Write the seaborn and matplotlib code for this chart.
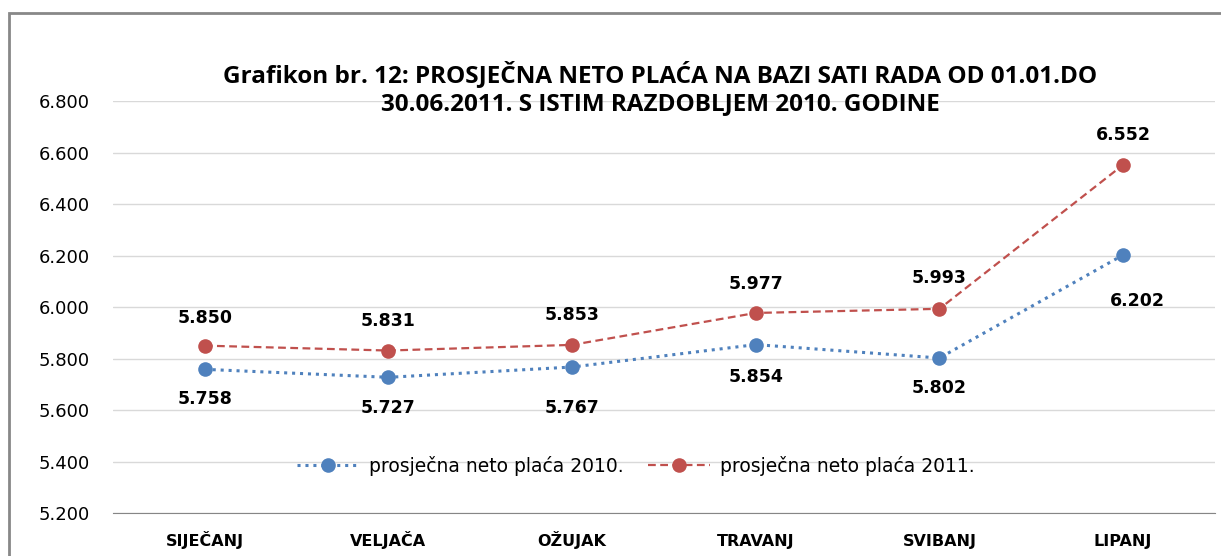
import matplotlib
matplotlib.use("Agg")
import matplotlib.pyplot as plt
import matplotlib.patches as mpatches
import matplotlib.ticker as mticker
import pandas as pd
import seaborn as sns

months = ["SIJEČANJ", "VELJAČA", "OŽUJAK", "TRAVANJ", "SVIBANJ", "LIPANJ"]
placa_2010 = [5758, 5727, 5767, 5854, 5802, 6202]
placa_2011 = [5850, 5831, 5853, 5977, 5993, 6552]
label_2010 = "prosječna neto plaća 2010."
label_2011 = "prosječna neto plaća 2011."
title = ("Grafikon br. 12: PROSJEČNA NETO PLAĆA NA BAZI SATI RADA OD 01.01.DO\n"
         "30.06.2011. S ISTIM RAZDOBLJEM 2010. GODINE")

BLUE = "#4F81BD"
RED = "#C0504D"

sns.set_style("white")
plt.rcParams["font.family"] = ["DejaVu Sans"]
plt.rcParams["text.color"] = "black"
plt.rcParams["xtick.color"] = "black"
plt.rcParams["ytick.color"] = "black"

df = pd.DataFrame({"mjesec": months * 2,
                   "placa": placa_2010 + placa_2011,
                   "serija": [label_2010] * 6 + [label_2011] * 6})

fig = plt.figure(figsize=(12.21, 5.56), dpi=100)
ax = fig.add_axes([0.0925, 0.0773, 0.9025, 0.741])

# outer chart frame
fig.patches.append(mpatches.Rectangle((8.5 / 1221, -0.05), 1.2, 1 - 13 / 556 + 0.05,
                                      transform=fig.transFigure, fill=False,
                                      edgecolor="#888888", linewidth=2))

sns.lineplot(data=df[df.serija == label_2010], x="mjesec", y="placa", ax=ax,
             color=BLUE, marker="o", markersize=10.5, markeredgewidth=0,
             linewidth=2.2, linestyle=(0, (1, 1.6)), label=label_2010, sort=False)
sns.lineplot(data=df[df.serija == label_2011], x="mjesec", y="placa", ax=ax,
             color=RED, marker="o", markersize=10.5, markeredgewidth=0,
             linewidth=1.6, linestyle=(0, (3.5, 2)), label=label_2011, sort=False)

# label offsets in pixels (Excel placed a couple of labels slightly differently)
off_2010 = [(0, -30), (0, -31), (0, -41), (0, -32), (0, -30), (14, -46)]
off_2011 = [(0, 28), (0, 30), (0, 30), (0, 29), (0, 31), (0, 30)]
for i, (a, b) in enumerate(zip(placa_2010, placa_2011)):
    ax.annotate(f"{a / 1000:.3f}", (i, a), xytext=off_2010[i], textcoords="offset pixels",
                ha="center", va="center", fontsize=12.5, fontweight="bold")
    ax.annotate(f"{b / 1000:.3f}", (i, b), xytext=off_2011[i], textcoords="offset pixels",
                ha="center", va="center", fontsize=12.5, fontweight="bold")

ax.set_xlim(-0.5, 5.5)
ax.set_ylim(5200, 6800)
ax.yaxis.set_major_locator(mticker.MultipleLocator(200))
ax.yaxis.set_major_formatter(mticker.FuncFormatter(lambda v, p: f"{v / 1000:.3f}"))
ax.grid(axis="y", color="#D9D9D9", linewidth=1)
ax.set_axisbelow(True)
for side in ["top", "right", "left"]:
    ax.spines[side].set_visible(False)
ax.spines["bottom"].set_color("#868686")
ax.tick_params(axis="y", length=0, labelsize=13, pad=16.5)
ax.tick_params(axis="x", length=0, labelsize=11.5, pad=24)
for t in ax.get_xticklabels():
    t.set_fontweight("bold")
    t.set_verticalalignment("baseline")
ax.set_xlabel("")
ax.set_ylabel("")

ax.legend(loc="center", bbox_to_anchor=(0.4746, 0.114), ncol=2, frameon=False,
          fontsize=13.5, handlelength=3.3, handletextpad=0.55, columnspacing=1.3)

fig.text(0.5405, 0.841, title, ha="center", va="center", fontsize=17.5,
         fontweight="bold", linespacing=1.2, family=["Open Sans", "DejaVu Sans"])

fig.savefig("out.png", dpi=100)
